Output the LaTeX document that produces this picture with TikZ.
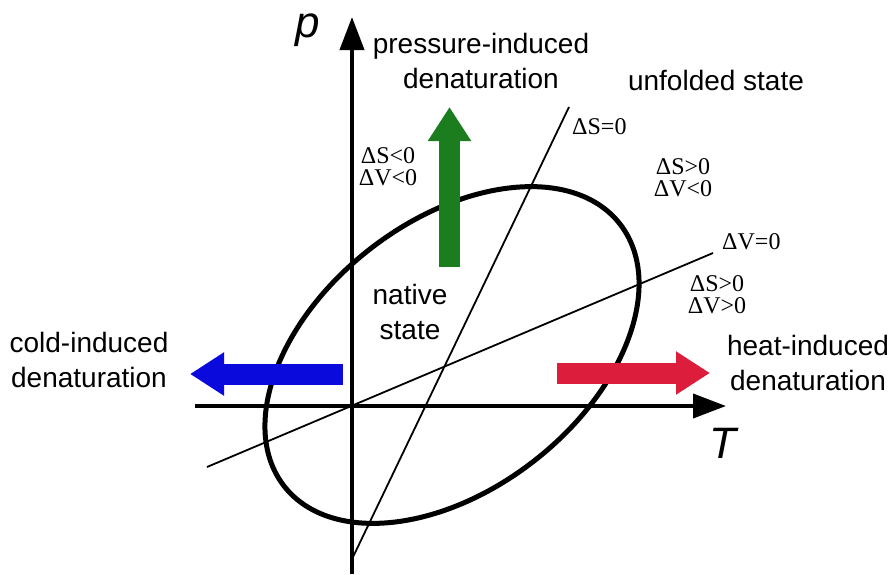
\documentclass[tikz,border=0pt]{standalone}
\usepackage{fontspec}
\setmainfont{Liberation Sans}
\newfontfamily\tmsfont{Liberation Serif}
\usetikzlibrary{arrows.meta}

\definecolor{pgreen}{RGB}{27,125,30}
\definecolor{cblue}{RGB}{10,10,220}
\definecolor{hred}{RGB}{220,30,60}

\tikzset{
  axisline/.style={line width=4pt, -{Triangle[length=33pt,width=24pt]}},
  thinline/.style={line width=1.8pt},
  bigarrow/.style={line width=21pt, -{Triangle[length=34pt,width=41pt]}},
  txt/.style={font=\fontsize{28}{35}\selectfont, align=center, inner sep=0pt},
  cond/.style={font=\tmsfont\fontsize{24}{22}\selectfont, align=center, inner sep=0pt},
  axlabel/.style={font=\fontsize{44}{44}\selectfont\itshape, inner sep=0pt},
}

\begin{document}
\begin{tikzpicture}[x=1pt, y=-1pt, line join=round]
  \useasboundingbox (0,0) rectangle (894,574);

  % axes
  \coordinate (O) at (352,406);
  \coordinate (pbot) at (352,574);
  \coordinate (ptop) at (352,17);
  \coordinate (Tleft) at (195,406);
  \coordinate (Tright) at (726,406);
  \draw[axisline] (pbot) -- (ptop);
  \draw[axisline] (Tleft) -- (Tright);
  \node[axlabel] (plab) at (308,30) {p};
  \node[axlabel] (Tlab) at (723,443) {T};

  % lines dS=0 and dV=0
  \coordinate (S0) at (353,557);
  \coordinate (S1) at (569,107);
  \coordinate (V0) at (207,467);
  \coordinate (V1) at (713,253);
  \draw[thinline] (S0) -- (S1);
  \draw[thinline] (V0) -- (V1);

  % stability ellipse
  \coordinate (C) at (452,355);
  \draw[line width=5pt, rotate around={38:(C)}] (C) ellipse [x radius=213pt, y radius=134pt];

  % denaturation arrows
  \coordinate (g0) at (449.5,267); \coordinate (g1) at (449.5,107);
  \coordinate (b0) at (343,374);   \coordinate (b1) at (190,374);
  \coordinate (r0) at (557,373);   \coordinate (r1) at (710,373);
  \draw[bigarrow, pgreen] (g0) -- (g1);
  \draw[bigarrow, cblue] (b0) -- (b1);
  \draw[bigarrow, hred] (r0) -- (r1);

  % texts
  \node[txt] (press) at (481,61) {pressure-induced\\denaturation};
  \node[txt] (unfold) at (716,80) {unfolded state};
  \node[txt] (native) at (410,312) {native\\state};
  \node[txt] (cold) at (89,360) {cold-induced\\denaturation};
  \node[txt] (heat) at (808,363) {heat-induced\\denaturation};

  \node[cond, anchor=west] (dS) at (572,127) {ΔS=0};
  \node[cond, anchor=west] (dV) at (722,242) {ΔV=0};
  \node[cond] (q1) at (388,167) {ΔS<0\\ΔV<0};
  \node[cond] (q2) at (683,178) {ΔS>0\\ΔV<0};
  \node[cond] (q3) at (717,295) {ΔS>0\\ΔV>0};
\end{tikzpicture}
\end{document}
